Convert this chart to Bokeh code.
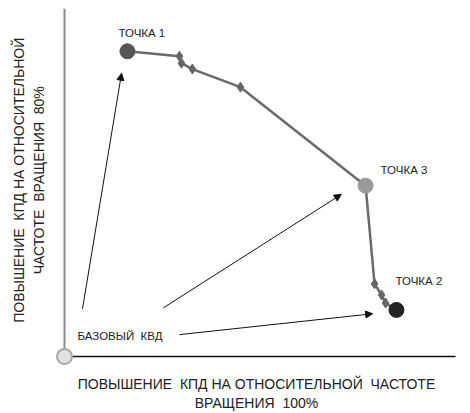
from bokeh.plotting import figure
from bokeh.models import (Range1d, Arrow, NormalHead, FixedTicker, ColumnDataSource,
                          LabelSet)
from bokeh.core.properties import value
from bokeh.embed import file_html
from bokeh.resources import INLINE

# ---- data (relative scale, % of axis length) ----
point_names = ["ТОЧКА 1", "ТОЧКА 3", "ТОЧКА 2"]
point_x = [16.1, 77.0, 84.9]
point_y = [87.7, 49.1, 13.4]
point_colors = ["#555555", "#9a9a9a", "#222222"]
label_dx = [-9, 15, -1]
label_dy = [18, 16, 29]

diamond_x = [29.4, 29.9, 32.7, 45.0, 79.3, 81.1, 82.1]
diamond_y = [86.3, 84.3, 82.6, 77.4, 20.9, 17.7, 15.4]

path_x = [16.1, 29.4, 29.9, 32.7, 45.0, 77.0, 79.3, 81.1, 82.1, 84.9]
path_y = [87.7, 86.3, 84.3, 82.6, 77.4, 49.1, 20.9, 17.7, 15.4, 13.4]

base_x = [0.0]
base_y = [0.0]
base_label = ["БАЗОВЫЙ\u00a0\u00a0КВД"]

arrow_x_start = [4.6, 25.3, 29.4]
arrow_y_start = [13.7, 14.0, 6.3]
arrow_x_end = [14.6, 70.8, 78.8]
arrow_y_end = [81.4, 46.6, 12.3]

axis_max = 100.0

NB = "\u00a0"
x_label = ("ПОВЫШЕНИЕ" + NB + NB + "КПД НА ОТНОСИТЕЛЬНОЙ" + NB + NB + "ЧАСТОТЕ\n"
           "ВРАЩЕНИЯ" + NB + NB + "100%")
y_label = (NB * 5 + "ПОВЫШЕНИЕ" + NB + NB + "КПД НА ОТНОСИТЕЛЬНОЙ\n"
           + NB * 5 + "ЧАСТОТЕ" + NB + NB + "ВРАЩЕНИЯ" + NB + NB + "80%")

FONT = "Liberation Sans"

p = figure(width=470, height=413, output_backend="svg", toolbar_location=None,
           x_range=Range1d(-3.58, 101.79), y_range=Range1d(-4.29, 100),
           min_border_left=50, min_border_right=8, min_border_top=8,
           min_border_bottom=40)
p.grid.visible = False
p.outline_line_color = None
p.background_fill_color = "white"
p.border_fill_color = "white"

for ax, lab in ((p.xaxis[0], x_label), (p.yaxis[0], y_label)):
    ax.ticker = FixedTicker(ticks=[])
    ax.major_label_text_font_size = "0px"
    ax.major_tick_line_color = None
    ax.minor_tick_line_color = None
    ax.major_tick_out = 0
    ax.major_tick_in = 0
    ax.axis_line_color = None
    ax.axis_label = lab
    ax.axis_label_text_font = FONT
    ax.axis_label_text_font_style = "normal"
    ax.axis_label_text_font_size = "14px"
    ax.axis_label_text_color = "#222222"
    ax.axis_label_standoff = 4

# axis lines
p.segment(x0=[0], y0=[0], x1=[0], y1=[axis_max], line_color="#8a8a8a", line_width=2)
p.segment(x0=[0], y0=[0], x1=[axis_max], y1=[0], line_color="#111111", line_width=1.5)

# origin / base point
p.scatter(base_x, base_y, marker="circle", size=15, fill_color="#e2e2e2",
          line_color="#a8a8a8", line_width=2)
p.text(x=base_x, y=base_y, text=base_label, x_offset=13, y_offset=-21,
       text_font=value(FONT), text_font_size="11.5px", text_color="#222222",
       text_baseline="middle", text_align="left")

# path
p.line(path_x, path_y, line_color="#6a6a6a", line_width=2.5)
p.scatter(diamond_x, diamond_y, marker="diamond", size=10, fill_color="#666666",
          line_color="#666666")

src = ColumnDataSource(dict(x=point_x, y=point_y, name=point_names, color=point_colors,
                            dx=label_dx, dy=label_dy))
p.scatter("x", "y", source=src, marker="circle", size=15, fill_color="color",
          line_color="color")
p.add_layout(LabelSet(x="x", y="y", text="name", source=src, x_offset="dx",
                      y_offset="dy", text_font=value(FONT), text_font_size="11.5px",
                      text_color="#222222", text_baseline="middle", text_align="left"))

asrc = ColumnDataSource(dict(x0=arrow_x_start, y0=arrow_y_start, x1=arrow_x_end,
                             y1=arrow_y_end))
p.add_layout(Arrow(source=asrc, x_start="x0", y_start="y0", x_end="x1", y_end="y1",
                   line_color="#111111", line_width=1,
                   end=NormalHead(size=7, fill_color="#111111", line_color="#111111")))

open("out.html", "w").write(file_html(p, INLINE))
